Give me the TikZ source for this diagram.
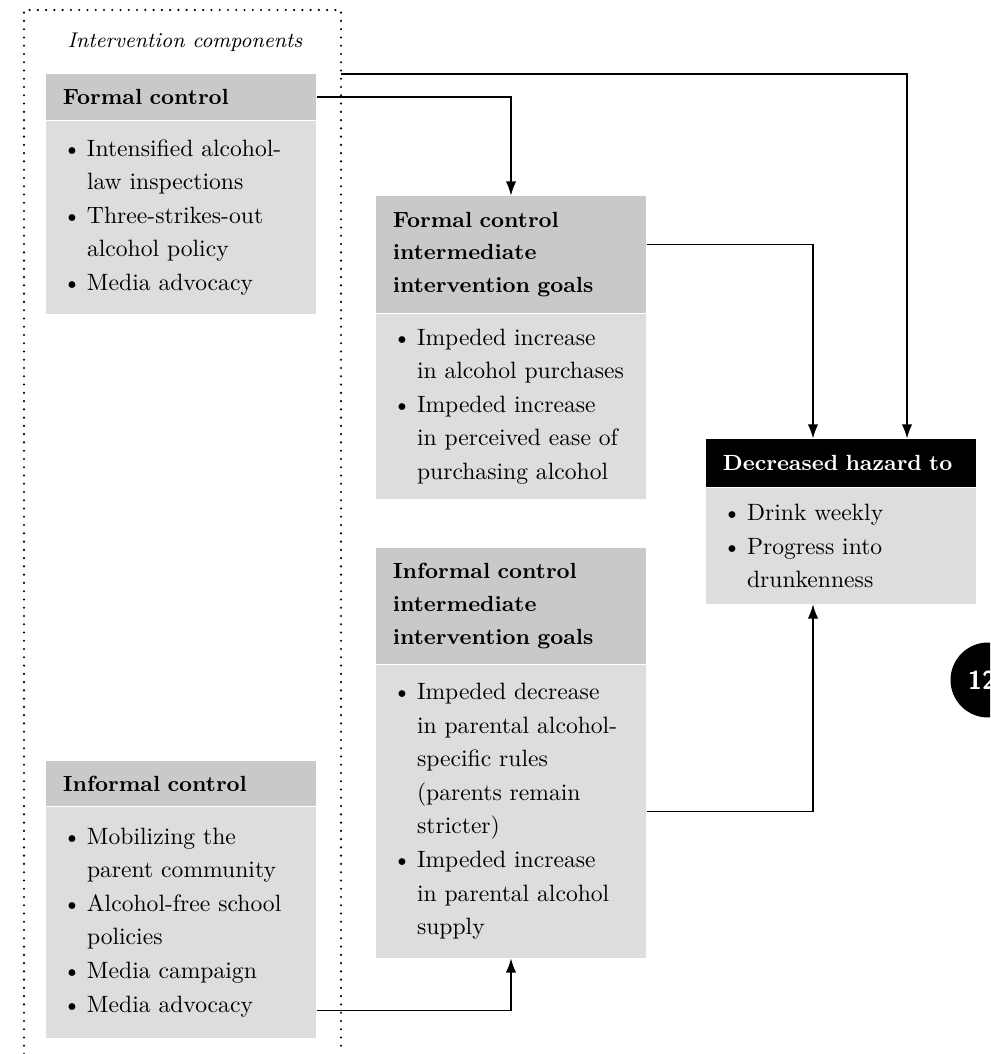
\documentclass[tikz,border=0pt]{standalone}
\usetikzlibrary{positioning,arrows.meta}
\definecolor{headgray}{HTML}{C8C9CB}
\definecolor{bodygray}{HTML}{DCDDDF}
\newcommand\px{0.4235pt}
\newcommand\bul{\makebox[10.2pt][l]{\textbullet}}
\newcommand\cnt{\hspace*{10.2pt}}
\tikzset{
  panel/.style={text width=100pt, inner xsep=7.2pt, inner ysep=0pt, align=left},
  headbox/.style={panel, fill=headgray, font=\fontsize{9.3}{13.8}\selectfont\bfseries},
  darkhead/.style={headbox, fill=black, text=white},
  bodybox/.style={panel, fill=bodygray, font=\fontsize{10}{14.2}\selectfont},
  flow/.style={draw, line width=0.55pt, -{Latex[length=6pt,width=4.4pt]}},
  frameline/.style={line width=1pt, line cap=round, dash pattern=on 0pt off 3.5pt},
}
\begin{document}
\begin{tikzpicture}[x=\px, y=-\px]
  \useasboundingbox (0,0) rectangle (990,1054);
  \clip (0,0) rectangle (990,1054);

  % intervention components frame
  \draw[frameline] (24,1054) |- (341,10) -- (341,1054);
  \node[font=\fontsize{9}{11}\selectfont\itshape] (comptitle) at (185,42) {Intervention components};
  \coordinate (frameR) at (341,74);

  % left column
  \node[headbox, minimum height=46*\px] (fchead) at (181,97) {Formal control};
  \node[bodybox, minimum height=193*\px, below=0pt of fchead] (fcbody)
    {\bul Intensified alcohol-\\ \cnt law inspections\\ \bul Three-strikes-out\\ \cnt alcohol policy\\ \bul Media advocacy};

  \node[headbox, minimum height=45*\px] (infhead) at (181,783.5) {Informal control};
  \node[bodybox, minimum height=231*\px, below=0pt of infhead] (infbody)
    {\bul Mobilizing the\\ \cnt parent community\\ \bul Alcohol-free school\\ \cnt policies\\ \bul Media campaign\\ \bul Media advocacy};

  % middle column
  \node[headbox, minimum height=117*\px] (fcihead) at (511,254.5) {Formal control\\ intermediate\\ intervention goals};
  \node[bodybox, minimum height=185*\px, below=0pt of fcihead] (fcibody)
    {\bul Impeded increase\\ \cnt in alcohol purchases\\ \bul Impeded increase\\ \cnt in perceived ease of\\ \cnt purchasing alcohol};

  \node[headbox, minimum height=116*\px] (icihead) at (511,606) {Informal control\\ intermediate\\ intervention goals};
  \node[bodybox, minimum height=293*\px, below=0pt of icihead] (icibody)
    {\bul Impeded decrease\\ \cnt in parental alcohol-\\ \cnt specific rules\\ \cnt (parents remain\\ \cnt stricter)\\ \bul Impeded increase\\ \cnt in parental alcohol\\ \cnt supply};

  % outcome
  \node[darkhead, minimum height=48*\px] (dhhead) at (841,463) {Decreased hazard to};
  \node[bodybox, minimum height=116*\px, below=0pt of dhhead] (dhbody)
    {\bul Drink weekly\\ \bul Progress into\\ \cnt drunkenness};

  % page tab
  \node[circle, fill=black, text=white, minimum size=75*\px, inner sep=0pt,
        font=\sffamily\bfseries\fontsize{11}{11}\selectfont] (pagetab) at (988,680) {12\hspace*{5pt}};

  % connectors
  \draw[flow] (fchead.east) -| (fcihead.north);
  \draw[flow] (frameR) -| ([xshift=66*\px]dhhead.north);
  \draw[flow] ([yshift=10*\px]fcihead.east) -| ([xshift=-28*\px]dhhead.north);
  \draw[flow] (icibody.east) -| ([xshift=-28*\px]dhbody.south);
  \draw[flow] ([yshift=28*\px]infbody.south east) -| (icibody.south);
\end{tikzpicture}
\end{document}
